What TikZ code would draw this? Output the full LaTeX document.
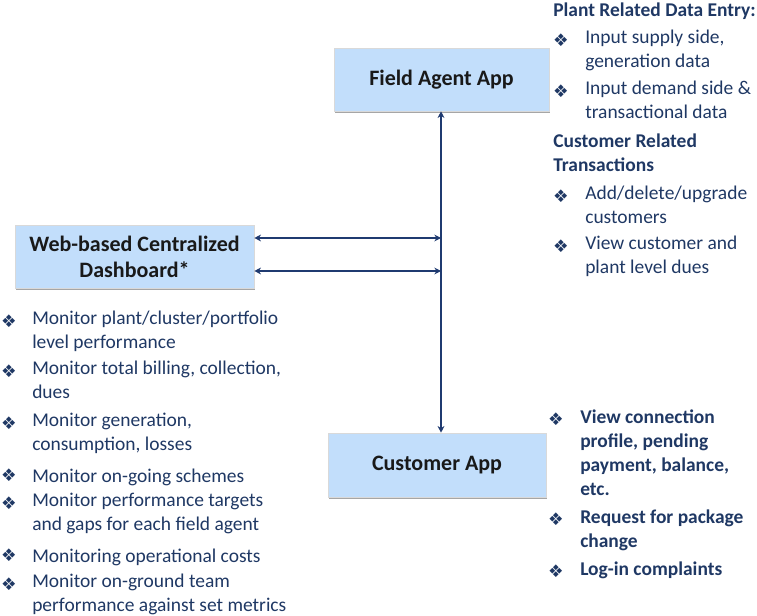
\documentclass[tikz,border=0pt]{standalone}
\usepackage{fontspec}
\setmainfont{Carlito}
\newfontfamily\dvfont{DejaVu Sans}
\usetikzlibrary{arrows.meta,shadows}
\definecolor{txtblue}{HTML}{1F3864}
\definecolor{arrblue}{HTML}{1F3A70}
\definecolor{boxfill}{HTML}{C2DEFB}
\tikzset{
  appbox/.style={draw=white!85!black, line width=0.4pt, fill=boxfill, inner sep=0pt,
    font=\fontsize{16.5}{19.5}\selectfont\bfseries, text=black!90, align=center,
    drop shadow={shadow xshift=0.6pt, shadow yshift=-1.6pt, opacity=0.35, fill=black}},
  itemtxt/.style={anchor=north west, inner sep=0pt, align=left, text=txtblue,
    font=\fontsize{14.6}{18}\selectfont, execute at begin node=\strut, yshift=9.6pt},
  itembold/.style={itemtxt, font=\fontsize{14.6}{18}\selectfont\bfseries},
  bul/.style={inner sep=0pt, text=txtblue, font=\dvfont\fontsize{13}{13}\selectfont, yshift=-2.5pt},
  arr/.style={draw=arrblue, line width=1.5pt, {Stealth[length=5pt,width=5pt]}-{Stealth[length=5pt,width=5pt]}}
}
\begin{document}
\begin{tikzpicture}[x=0.75pt,y=-0.75pt]
\useasboundingbox (0,0) rectangle (757,616);
% boxes
\node[appbox, minimum width=161.25pt, minimum height=47.25pt] (fa) at (441.5,79.5) {Field Agent App};
\node[appbox, minimum width=179.25pt, minimum height=47.25pt] (wb) at (134.5,256.5) {Web-based Centralized\\Dashboard*};
\node[appbox, minimum width=163.5pt, minimum height=48pt] (ca) at (437,465) {Customer App};
% connectors
\coordinate (j1) at (441,238);
\coordinate (j2) at (441,271);
\draw[arr] (fa.south -| j1) -- (ca.north -| j1);
\draw[arr] (wb.east |- j1) -- (j1);
\draw[arr] (wb.east |- j2) -- (j2);
% field agent texts
\node[itembold] (h1) at (553,12) {Plant Related Data Entry:};
\node[bul] (fb1) at (561,37) {❖};
\node[itemtxt] (ft1) at (585,43) {Input supply side,\\generation data};
\node[bul] (fb2) at (561,88) {❖};
\node[itemtxt] (ft2) at (585,94) {Input demand side \&\\transactional data};
\node[itembold] (h2) at (553,146) {Customer Related\\Transactions};
\node[bul] (fb3) at (561,193) {❖};
\node[itemtxt] (ft3) at (585,199) {Add/delete/upgrade\\customers};
\node[bul] (fb4) at (561,243) {❖};
\node[itemtxt] (ft4) at (585,249) {View customer and\\plant level dues};
% dashboard texts
\node[bul] (wb1) at (9,318) {❖};
\node[itemtxt] (wt1) at (32,324) {Monitor plant/cluster/portfolio\\level performance};
\node[bul] (wb2) at (9,368) {❖};
\node[itemtxt] (wt2) at (32,374) {Monitor total billing, collection,\\dues};
\node[bul] (wb3) at (9,420) {❖};
\node[itemtxt] (wt3) at (32,426) {Monitor generation,\\consumption, losses};
\node[bul] (wb4) at (9,472) {❖};
\node[itemtxt] (wt4) at (32,478) {Monitor on-going schemes};
\node[bul] (wb5) at (9,500) {❖};
\node[itemtxt] (wt5) at (32,506) {Monitor performance targets\\and gaps for each field agent};
\node[bul] (wb6) at (9,552) {❖};
\node[itemtxt] (wt6) at (32,558) {Monitoring operational costs};
\node[bul] (wb7) at (9,581) {❖};
\node[itemtxt] (wt7) at (32,587) {Monitor on-ground team\\performance against set metrics};
% customer texts
\node[bul] (cb1) at (556,416) {❖};
\node[itembold] (ct1) at (580,422) {View connection\\profile, pending\\payment, balance,\\etc.};
\node[bul] (cb2) at (556,516) {❖};
\node[itembold] (ct2) at (580,522) {Request for package\\change};
\node[bul] (cb3) at (556,568) {❖};
\node[itembold] (ct3) at (580,571) {Log-in complaints};
\end{tikzpicture}
\end{document}
